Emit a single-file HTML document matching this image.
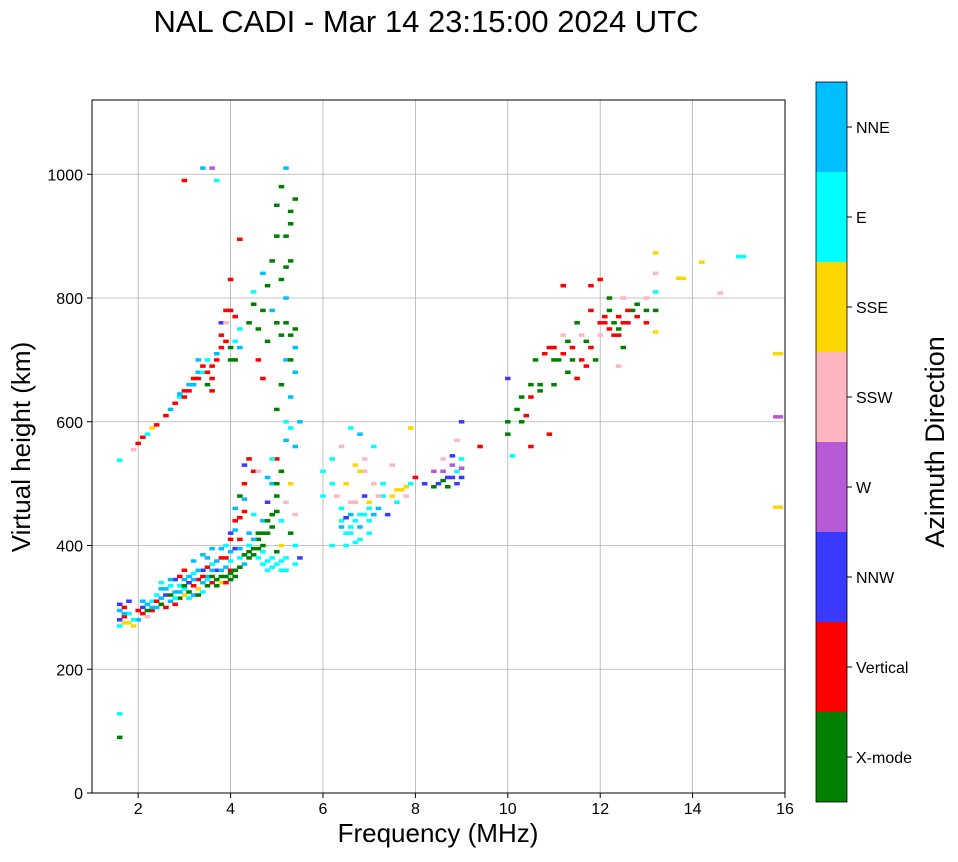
<!DOCTYPE html>
<html><head><meta charset="utf-8"><style>
body{margin:0;background:#fff;font-family:"Liberation Sans",sans-serif}
</style></head><body>
<svg id="chart" width="958" height="857" xmlns="http://www.w3.org/2000/svg" font-family="Liberation Sans, sans-serif">
<text x="426" y="32" font-size="31" text-anchor="middle">NAL CADI - Mar 14 23:15:00 2024 UTC</text>
<g id="grid"></g>
<g id="marks"></g>
<rect x="92" y="100" width="693" height="693" fill="none" stroke="#000" stroke-width="1"/>
<g id="ticks"></g>
<text x="438" y="842" font-size="26" text-anchor="middle">Frequency (MHz)</text>
<text transform="translate(30,447) rotate(-90)" font-size="26" text-anchor="middle">Virtual height (km)</text>
<g id="cbar"></g>
<text transform="translate(944,442) rotate(-90)" font-size="27" text-anchor="middle">Azimuth Direction</text>
</svg>
<script>
const directions = ["X-mode","Vertical","NNW","W","SSW","SSE","E","NNE"];
const dirColors = ["#008000","#ff0000","#3a3aff","#b65ad6","#ffb6c1","#ffd700","#00ffff","#00bfff"];
const xTicks = [2,4,6,8,10,12,14,16];
const yTicks = [0,200,400,600,800,1000];
// [frequency MHz, virtual height km, direction index]
const echoes = [
[1.6,270,6],[1.6,280,2],[1.6,295,7],[1.6,305,2],[1.7,275,5],[1.7,300,1],[1.8,275,5],[1.8,290,6],[1.8,310,2],[1.9,270,5],[2.0,280,7],[2.1,290,1],[2.1,300,2],[2.2,285,4],[2.2,305,7],[2.3,295,1],[2.3,310,6],[2.4,300,7],[2.4,320,6],[2.5,305,0],[2.5,330,7],[2.6,300,1],[2.6,320,2],[2.7,310,7],[2.7,335,6],[2.8,305,1],[2.8,325,7],[2.8,345,2],[2.9,315,0],[2.9,335,6],[3.0,320,5],[3.0,345,7],[3.0,360,1],[3.1,325,0],[3.1,340,2],[3.2,320,7],[3.2,355,6],[3.2,375,7],[3.3,330,5],[3.3,345,1],[3.4,325,6],[3.4,360,2],[3.4,385,7],[3.5,335,0],[3.5,350,7],[3.6,340,1],[3.6,370,6],[3.6,395,7],[3.7,345,0],[3.7,360,2],[3.8,340,5],[3.8,380,1],[3.9,350,0],[3.9,365,7],[3.9,400,6],[4.0,345,0],[4.0,360,1],[4.0,390,7],[4.0,420,2],[4.1,360,0],[4.1,440,1],[4.1,460,7],[4.2,380,6],[4.2,410,1],[4.2,480,0],[4.3,370,7],[4.3,500,1],[4.3,530,2],[4.4,390,0],[4.4,420,7],[4.5,385,0],[4.5,450,6],[4.5,520,1],[4.6,380,6],[4.6,410,0],[4.7,370,6],[4.7,400,0],[4.7,440,7],[4.8,360,6],[4.8,420,0],[4.8,470,2],[4.9,365,6],[4.9,450,0],[4.9,500,7],[5.0,370,6],[5.0,480,0],[5.0,540,1],[5.1,360,6],[5.1,400,5],[5.1,520,0],[5.2,380,6],[5.2,570,7],[5.3,590,6],[5.3,420,0],[5.4,370,6],[5.4,450,4],[5.5,600,7],[5.5,380,2],
[1.7,285,1],[1.7,290,7],[1.9,280,6],[2.0,295,1],[2.1,310,7],[2.2,295,0],[2.3,300,7],[2.4,310,1],[2.5,315,7],[2.5,340,6],[2.6,330,7],[2.7,320,0],[2.7,345,7],[2.8,315,6],[2.9,325,7],[2.9,350,1],[3.0,330,6],[3.0,335,0],[3.1,350,7],[3.1,315,6],[3.2,335,1],[3.2,345,7],[3.3,320,0],[3.3,360,7],[3.4,340,7],[3.4,350,1],[3.5,345,6],[3.5,365,1],[3.5,380,7],[3.6,350,0],[3.6,360,7],[3.7,335,0],[3.7,375,7],[3.8,350,0],[3.8,360,7],[3.8,395,7],[3.9,340,1],[3.9,380,1],[4.0,355,0],[4.0,375,6],[4.0,410,1],[4.1,350,0],[4.1,395,2],[4.1,425,7],[4.2,365,0],[4.2,395,7],[4.2,445,1],[4.3,385,0],[4.3,455,1],[4.3,475,7],[4.4,380,0],[4.4,400,6],[4.4,540,1],[4.5,395,0],[4.5,410,7],[4.6,395,0],[4.6,420,0],[4.6,520,4],[4.7,390,6],[4.7,420,0],[4.8,375,6],[4.8,440,0],[4.8,510,7],[4.9,380,6],[4.9,430,0],[4.9,540,6],[5.0,390,0],[5.0,455,0],[5.0,500,0],[5.1,375,6],[5.1,440,6],[5.2,360,6],[5.2,470,4],[5.2,600,6],[5.3,640,7],[5.3,500,5],[5.4,400,6],[5.4,560,7],
[5.0,620,0],[5.1,660,0],[5.2,700,7],[5.3,740,0],[5.0,760,0],[5.2,800,7],[5.1,830,0],[5.3,860,0],[5.2,900,0],[5.3,940,0],[5.1,980,0],[5.2,1010,7],[4.7,780,0],[4.6,750,0],[4.8,820,0],[5.4,750,0],[5.4,680,7],[4.4,760,0],[4.5,790,0],
[4.9,860,0],[5.0,900,0],[5.2,850,0],[5.3,920,0],[5.4,960,0],[5.1,740,0],[5.2,760,0],[4.8,730,0],[4.9,780,7],[5.4,720,7],[5.3,700,0],[4.6,700,1],[4.7,670,1],[4.5,810,6],[4.7,840,7],[5.0,950,0],
[2.0,565,1],[2.1,575,1],[2.2,580,6],[2.3,590,5],[2.4,595,1],[2.6,610,1],[2.7,620,7],[2.8,630,1],[2.9,640,6],[3.0,650,1],[3.1,660,7],[3.2,670,1],[3.3,680,7],[3.4,690,1],[3.5,700,6],[3.6,690,1],[3.7,710,7],[3.8,740,1],[3.9,780,1],[4.0,720,0],[4.0,830,1],[4.1,700,0],[4.2,750,6],[4.2,895,1],[3.4,1010,7],[3.6,1010,3],[3.0,990,1],[3.7,990,6],[4.1,770,1],[3.8,760,2],
[2.9,645,7],[3.0,640,1],[3.1,650,1],[3.2,660,7],[3.3,670,1],[3.4,680,6],[3.5,680,1],[3.6,670,1],[3.7,700,1],[3.8,720,1],[3.9,730,1],[3.9,760,4],[4.0,700,0],[4.0,780,1],[4.1,730,6],[4.2,720,7],[3.5,660,0],[3.6,650,1],[3.3,700,7],
[6.0,480,6],[6.0,520,6],[6.2,400,6],[6.2,540,6],[6.4,430,7],[6.4,460,6],[6.4,560,4],[6.5,400,6],[6.5,500,5],[6.6,450,7],[6.6,420,6],[6.7,470,4],[6.7,530,5],[6.8,410,6],[6.8,450,6],[6.8,580,7],[6.9,480,2],[6.9,520,4],[7.0,440,6],[7.0,470,5],[7.0,420,6],[7.1,560,6],[7.1,500,4],[7.2,460,7],[7.3,480,6],[7.4,450,2],[7.5,480,5],[7.5,530,4],[7.6,470,6],[7.7,490,5],[7.8,480,4],[7.9,500,6],[7.9,590,5],[6.6,590,6],
[6.4,440,6],[6.5,420,6],[6.5,445,2],[6.6,430,6],[6.6,470,4],[6.7,405,6],[6.7,440,6],[6.8,430,7],[6.8,520,5],[6.9,450,6],[6.9,540,4],[7.0,460,6],[7.1,450,7],[7.2,480,4],[7.3,500,6],[7.6,490,5],[7.8,495,5],[6.3,480,4],[6.2,500,6],
[8.0,510,1],[8.2,500,2],[8.4,520,3],[8.5,500,2],[8.6,540,4],[8.7,510,2],[8.8,530,3],[8.9,500,2],[9.0,540,6],[9.0,600,2],[8.9,570,4],[9.4,560,1],[8.4,495,0],
[8.6,520,3],[8.6,505,0],[8.8,510,2],[8.8,545,2],[8.9,520,6],[9.0,510,2],[9.0,525,3],[8.7,495,0],
[10.0,580,0],[10.0,670,2],[10.1,545,6],[10.2,620,0],[10.3,640,0],[10.4,610,1],[10.5,660,0],[10.6,700,0],[10.7,650,0],[10.8,710,1],[11.0,660,0],[11.0,720,1],[11.1,700,0],[11.2,740,4],[11.3,680,0],[11.4,720,1],[11.5,670,1],[11.5,760,0],[11.6,700,1],[11.7,730,0],[11.8,780,1],[11.8,820,1],[11.9,700,0],[12.0,740,4],[12.1,760,1],[12.2,780,0],[12.3,740,1],[12.4,770,1],[12.5,720,0],[12.5,800,4],[12.6,760,1],[12.7,780,0],[12.8,770,1],[13.0,780,0],[13.0,760,1],[13.2,810,6],[13.2,840,4],[13.2,780,0],[13.2,745,5],[12.0,830,1],[12.2,800,0],[12.4,690,4],[11.2,820,1],[10.9,580,1],[10.5,560,1],
[10.0,600,0],[10.3,600,0],[10.5,640,1],[10.7,660,0],[10.9,720,1],[11.0,700,0],[11.2,710,1],[11.3,730,0],[11.4,700,0],[11.6,740,4],[11.8,720,1],[12.0,760,1],[12.2,750,1],[12.3,760,0],[12.4,740,1],[12.4,750,0],[12.6,780,1],[12.8,790,0],[13.0,800,4],[12.1,770,1],[11.7,690,1],[12.5,760,1],
[13.2,873,5],[13.7,832,5],[13.8,832,5],[14.2,858,5],[14.6,808,4],[15.0,867,6],[15.1,867,6],[15.8,710,5],[15.9,710,5],[15.8,608,3],[15.9,608,3],[15.8,462,5],[15.9,462,5],[1.6,90,0],[1.6,128,6],[1.6,538,6],[1.9,555,4]
];
const NS="http://www.w3.org/2000/svg";
const L=92,R=785,T=100,B=793,fMin=1,fMax=16,hMax=1120;
const xs=f=>L+(f-fMin)/(fMax-fMin)*(R-L);
const ys=h=>B-h/hMax*(B-T);
function mk(tag,at,parent){const e=document.createElementNS(NS,tag);for(const k in at)e.setAttribute(k,at[k]);parent.appendChild(e);return e;}
const grid=document.getElementById('grid'),ticks=document.getElementById('ticks'),marks=document.getElementById('marks'),cbar=document.getElementById('cbar');
xTicks.forEach(v=>{const x=xs(v);
 const g=mk('line',{x1:x,x2:x,y1:T,y2:B,stroke:'#b0b0b0','stroke-width':0.8},grid);
 
 
 const t=mk('line',{x1:x,x2:x,y1:B,y2:B+5,stroke:'#000'},ticks);
 
 
 const l=mk('text',{x:x,y:B+21,'font-size':16,'text-anchor':'middle'},ticks);l.textContent=v;
 
 
});
yTicks.forEach(v=>{const y=ys(v);
 const g=mk('line',{x1:L,x2:R,y1:y,y2:y,stroke:'#b0b0b0','stroke-width':0.8},grid);
 
 
 const t=mk('line',{x1:L-5,x2:L,y1:y,y2:y,stroke:'#000'},ticks);
 
 
 const l=mk('text',{x:L-9,y:y+6,'font-size':16,'text-anchor':'end'},ticks);l.textContent=v;
 
 
});
const bw=xs(1.12)-xs(1);
echoes.forEach(p=>{
 const r=mk('rect',{x:xs(p[0])-bw/2,y:ys(p[1])-1.7,width:bw,height:3.5,fill:dirColors[p[2]]},marks);
 
 
});
const cx=816,cw=31,cTop=82,cBot=802,seg=(cBot-cTop)/directions.length;
directions.forEach((d,i)=>{
 const y=cBot-(i+1)*seg;
 const r=mk('rect',{x:cx,y:y,width:cw,height:seg,fill:dirColors[i]},cbar);
 
 
 mk('line',{x1:cx+cw,x2:cx+cw+5,y1:y+seg/2,y2:y+seg/2,stroke:'#000'},cbar);
 const t=mk('text',{x:cx+cw+9,y:y+seg/2+6,'font-size':16},cbar);t.textContent=d;
 
 
});
mk('rect',{x:cx,y:cTop,width:cw,height:cBot-cTop,fill:'none',stroke:'#000','stroke-width':0.8},cbar);
</script>
</body></html>
